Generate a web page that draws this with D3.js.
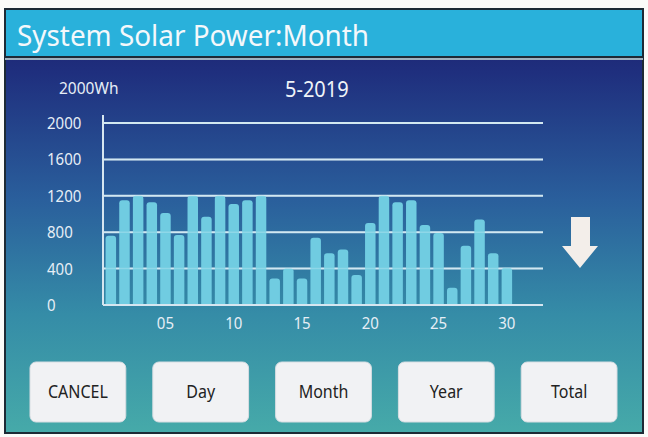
<!DOCTYPE html>
<html>
<head>
<meta charset="utf-8">
<script src="https://cdn.jsdelivr.net/npm/d3@7"></script>
<style>
  html, body { margin: 0; padding: 0; background: #fbfbf9; }
  svg { display: block; }
</style>
</head>
<body>
<div id="chart"></div>
<script>
// daily solar energy for 5-2019 (Wh)
const days = d3.range(1, 31)
const energy = [760, 1150, 1200, 1130, 1010, 770, 1200, 970, 1200, 1110,
                1150, 1200, 290, 400, 290, 740, 570, 610, 330, 900,
                1200, 1130, 1150, 880, 790, 190, 650, 940, 570, 410]
const yTicks = [0, 400, 800, 1200, 1600, 2000]
const xTicks = [5, 10, 15, 20, 25, 30]
const buttons = ["CANCEL", "Day", "Month", "Year", "Total"]

const W = 648, H = 437
const font = "'Noto Sans', 'Open Sans', sans-serif"

// the screen uses a narrow font: measure at one size, draw taller at the same width
function condense(sel, measureSize, drawSize) {
    sel.attr("font-size", measureSize)
    sel.each(function() {
        let w = this.getComputedTextLength()
        d3.select(this)
            .attr("font-size", drawSize)
            .attr("textLength", w)
            .attr("lengthAdjust", "spacingAndGlyphs")
    })
}

let svg = d3.select("#chart").append("svg")
    .attr("width", W)
    .attr("height", H)

let defs = svg.append("defs")
let grad = defs.append("linearGradient")
    .attr("id", "bodyGrad")
    .attr("x1", 0).attr("y1", 0).attr("x2", 0).attr("y2", 1)
grad.selectAll("stop")
    .data([[0, "#1c1f6b"], [0.15, "#1f2f7e"], [0.45, "#2a5f9c"], [0.72, "#358ca7"], [1, "#46aaa9"]])
    .join("stop")
    .attr("offset", d => d[0])
    .attr("stop-color", d => d[1])

// frame + body
svg.append("rect")
    .attr("x", 5).attr("y", 9)
    .attr("width", 638).attr("height", 424)
    .attr("fill", "url(#bodyGrad)")
    .attr("stroke", "#1d2a35").attr("stroke-width", 2)

// title bar
svg.append("rect")
    .attr("x", 5).attr("y", 9)
    .attr("width", 638).attr("height", 48)
    .attr("fill", "#29b1db")
    .attr("stroke", "#1d2a35").attr("stroke-width", 2)
svg.append("rect")
    .attr("x", 5).attr("y", 58)
    .attr("width", 638).attr("height", 2)
    .attr("fill", "#9fb2bf")
svg.append("text")
    .attr("x", 17).attr("y", 46)
    .attr("font-family", font)
    .attr("font-size", 29)
    .attr("textLength", 352)
    .attr("lengthAdjust", "spacingAndGlyphs")
    .attr("fill", "#f4f8fb")
    .text("System Solar Power:Month")

// chart
let x = d3.scaleLinear().domain([0.5, 32.5]).range([104, 541])
let y = d3.scaleLinear().domain([0, 2000]).range([305, 123])

let chart = svg.append("g")

chart.append("text")
    .attr("x", 59).attr("y", 94)
    .attr("font-family", font)
    .attr("fill", "#e6eef6")
    .text("2000Wh")
    .call(condense, 15.5, 16)
chart.append("text")
    .attr("x", 285).attr("y", 97)
    .attr("font-family", font)
    .attr("fill", "#eef3f8")
    .text("5-2019")
    .call(condense, 20, 21)

// gridlines
chart.selectAll(".grid")
    .data(yTicks)
    .join("line")
    .attr("class", "grid")
    .attr("x1", 103).attr("x2", 543)
    .attr("y1", d => y(d)).attr("y2", d => y(d))
    .attr("stroke", "#d6e6f0").attr("stroke-width", 2)

chart.append("line")
    .attr("x1", 103).attr("x2", 103)
    .attr("y1", y(2000) - 8).attr("y2", y(0))
    .attr("stroke", "#d6e6f0").attr("stroke-width", 2)

chart.selectAll(".ylab")
    .data(yTicks)
    .join("text")
    .attr("class", "ylab")
    .attr("x", 47).attr("y", d => y(d) + 6)
    .attr("font-family", font)
    .attr("fill", "#e6eef6")
    .text(d => d)
    .call(condense, 15, 16)

chart.selectAll(".xlab")
    .data(xTicks)
    .join("text")
    .attr("class", "xlab")
    .attr("x", d => x(d)).attr("y", 329)
    .attr("text-anchor", "middle")
    .attr("font-family", font)
    .attr("fill", "#e6eef6")
    .text(d => d < 10 ? "0" + d : d)
    .call(condense, 15, 16)

// bars with rounded tops
const bw = 10.5, r = 3
chart.selectAll(".bar")
    .data(days)
    .join("path")
    .attr("class", "bar")
    .attr("fill", "#70cce1")
    .attr("d", (d, i) => {
        let x0 = x(d) - bw / 2, x1 = x(d) + bw / 2
        let top = y(energy[i]), bot = y(0) - 1
        return `M${x0},${bot}V${top + r}Q${x0},${top} ${x0 + r},${top}H${x1 - r}Q${x1},${top} ${x1},${top + r}V${bot}Z`
    })

// faint gridline showing through the bars
chart.selectAll(".gridover")
    .data(yTicks.slice(1))
    .join("line")
    .attr("class", "gridover")
    .attr("x1", 104).attr("x2", 543)
    .attr("y1", d => y(d)).attr("y2", d => y(d))
    .attr("stroke", "#c8eef6").attr("stroke-width", 1.5)
    .attr("opacity", 0.35)

// down arrow
svg.append("path")
    .attr("d", "M571,217H590V246H598L580,268L562,246H571Z")
    .attr("fill", "#f3eeea")

// buttons
let bx = d3.scaleBand().domain(buttons).range([30, 617]).paddingInner(0.22)
let btn = svg.selectAll(".btn")
    .data(buttons)
    .join("g")
    .attr("class", "btn")
btn.append("rect")
    .attr("x", d => bx(d)).attr("y", 362)
    .attr("width", bx.bandwidth()).attr("height", 60)
    .attr("rx", 6)
    .attr("fill", "#f1f2f4")
    .attr("stroke", "#d7dde2").attr("stroke-width", 1)
btn.append("text")
    .attr("x", d => bx(d) + bx.bandwidth() / 2).attr("y", 398)
    .attr("text-anchor", "middle")
    .attr("font-family", font)
    .attr("fill", "#222")
    .text(d => d)
    .call(condense, 16, 18)
</script>
</body>
</html>
